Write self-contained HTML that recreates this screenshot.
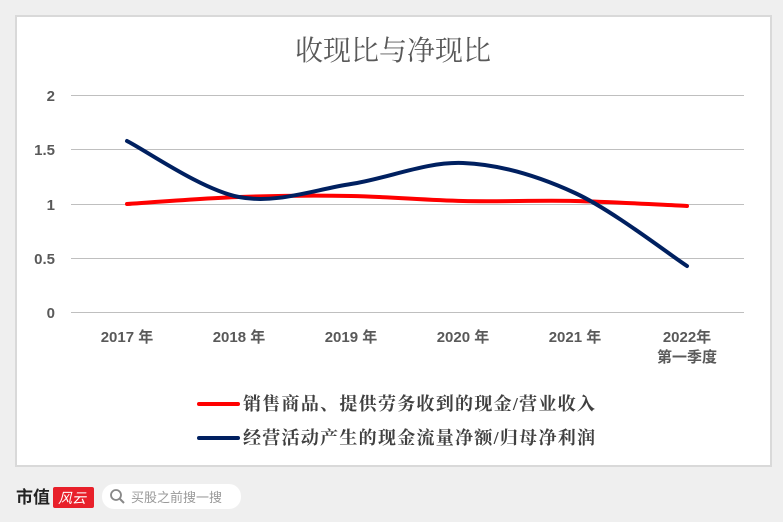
<!DOCTYPE html>
<html><head><meta charset="utf-8"><style>
body{margin:0;width:783px;height:522px;background:#efefef;font-family:"Liberation Sans","Noto Sans CJK SC",sans-serif;overflow:hidden}
</style></head><body>
<svg width="783" height="522" style="position:absolute;left:0;top:0">
<rect x="0.5" y="0.5" width="782" height="521" rx="14" fill="#efefef"/>
<rect x="16" y="16" width="755" height="450" fill="#fff" stroke="#d9d9d9" stroke-width="2"/>
<text x="393" y="60" text-anchor="middle" font-size="28" fill="#595959" font-family="Liberation Serif,Noto Serif CJK SC,serif">收现比与净现比</text>
<g stroke="#bfbfbf" stroke-width="1">
<line x1="71" y1="95.5" x2="744" y2="95.5"/><line x1="71" y1="149.5" x2="744" y2="149.5"/><line x1="71" y1="204.5" x2="744" y2="204.5"/><line x1="71" y1="258.5" x2="744" y2="258.5"/><line x1="71" y1="312.5" x2="744" y2="312.5"/>
</g>
<g font-size="15" font-weight="bold" fill="#595959" text-anchor="end">
<text x="55" y="101">2</text><text x="55" y="155">1.5</text><text x="55" y="210">1</text><text x="55" y="264">0.5</text><text x="55" y="318">0</text>
</g>
<g font-size="15" font-weight="bold" fill="#595959" text-anchor="middle">
<text x="127" y="342">2017 年</text><text x="239" y="342">2018 年</text><text x="351" y="342">2019 年</text><text x="463" y="342">2020 年</text><text x="575" y="342">2021 年</text><text x="687" y="342">2022年</text><text x="687" y="362">第一季度</text>
</g>
<path d="M127,204 C145.7,202.8 201.7,198.3 239,197 C276.3,195.7 313.7,195.3 351,196 C388.3,196.7 425.7,200.2 463,201 C500.3,201.8 537.7,200.2 575,201 C612.3,201.8 668.3,205.2 687,206" fill="none" stroke="#ff0000" stroke-width="4" stroke-linecap="round"/>
<path d="M127,141 C145.7,150.3 201.7,189.8 239,197 C276.3,204.2 313.7,189.7 351,184 C388.3,178.3 425.7,161.5 463,163 C500.3,164.5 537.7,175.8 575,193 C612.3,210.2 668.3,253.8 687,266" fill="none" stroke="#002060" stroke-width="4" stroke-linecap="round"/>
<line x1="199" y1="404" x2="238" y2="404" stroke="#ff0000" stroke-width="4" stroke-linecap="round"/>
<line x1="199" y1="438" x2="238" y2="438" stroke="#002060" stroke-width="4" stroke-linecap="round"/>
<g font-size="18" fill="#404040" font-weight="bold" font-family="Liberation Serif,Noto Serif CJK SC,serif">
<text x="243" y="410" textLength="352">销售商品、提供劳务收到的现金/营业收入</text>
<text x="243" y="444" textLength="352">经营活动产生的现金流量净额/归母净利润</text>
</g>
<text x="16" y="503" font-size="17" font-weight="bold" fill="#222">市值</text>
<rect x="53" y="487" width="41" height="21" rx="2" fill="#e8202a"/>
<text x="58" y="503" font-size="14" fill="#fff" font-style="italic">风云</text>
<rect x="102" y="484" width="139" height="25" rx="12" fill="#fff"/>
<circle cx="116" cy="495" r="5" fill="none" stroke="#888" stroke-width="1.8"/>
<line x1="120" y1="499" x2="124" y2="503" stroke="#888" stroke-width="2"/>
<text x="131" y="502" font-size="13" fill="#999">买股之前搜一搜</text>
</svg>
</body></html>
